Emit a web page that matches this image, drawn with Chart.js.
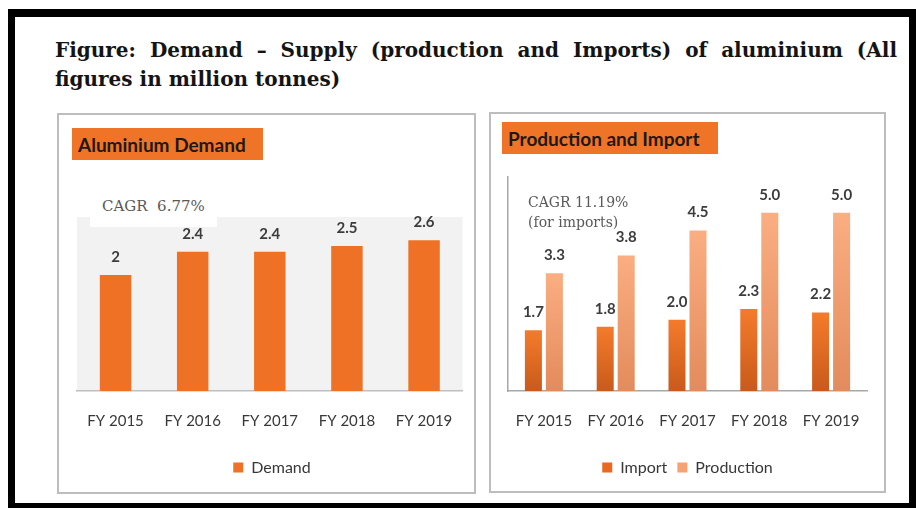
<!DOCTYPE html>
<html>
<head>
<meta charset="utf-8">
<script src="https://cdn.jsdelivr.net/npm/chart.js@4"></script>
<style>
  html, body { margin:0; padding:0; background:#fff; }
  body { width:916px; height:508px; position:relative; overflow:hidden; }
  .frame { position:absolute; left:8px; top:9px; width:908px; height:499px; box-sizing:border-box;
           border-style:solid; border-color:#000; border-width:8px 7px 5px 7px; }
  .title { position:absolute; left:55px; top:36px; width:842px; font-family:"DejaVu Serif", serif;
           font-weight:bold; font-size:20px; line-height:29px; color:#141414; }
  .l1 { text-align:justify; text-align-last:justify; white-space:nowrap; }
  .panel { position:absolute; box-sizing:border-box; border:2px solid #BDBDBD; }
  .tbox { position:absolute; background:#F07427; color:#1E1914; font-family:Lato, sans-serif; font-weight:bold;
          font-size:19px; display:flex; align-items:center; padding-left:6px; box-sizing:border-box; }
  canvas { position:absolute; }
  .cagr { position:absolute; font-family:"DejaVu Serif", serif; color:#595959; }
</style>
</head>
<body>
<div class="frame"></div>
<div class="title">
  <div class="l1">Figure: Demand – Supply (production and Imports) of aluminium (All</div>
  <div>figures in million tonnes)</div>
</div>

<div class="panel" style="left:57px; top:113px; width:419px; height:381px;"></div>
<div class="panel" style="left:489px; top:112px; width:397px; height:381px;"></div>

<canvas id="c1" width="415" height="377" style="left:59px; top:115px;"></canvas>
<canvas id="c2" width="393" height="377" style="left:491px; top:114px;"></canvas>

<div class="tbox" style="left:72px; top:128px; width:191px; height:32px;">Aluminium Demand</div>
<div class="tbox" style="left:502px; top:122px; width:216px; height:32px;">Production and Import</div>

<div class="cagr" style="left:90px; top:191px; width:127px; height:36px; background:#fff; font-size:15px; line-height:30px; padding-left:12px; box-sizing:border-box;">CAGR&nbsp; 6.77%</div>
<div class="cagr" style="left:528px; top:192px; font-size:14px; line-height:20px;">CAGR 11.19%<br>(for imports)</div>

<script>
const categories = ["FY 2015", "FY 2016", "FY 2017", "FY 2018", "FY 2019"];
const demandValues = [2, 2.4, 2.4, 2.5, 2.6];
const importValues = [1.7, 1.8, 2.0, 2.3, 2.2];
const productionValues = [3.3, 3.8, 4.5, 5.0, 5.0];

Chart.defaults.font.family = "Lato, sans-serif";
Chart.defaults.color = "#383838";

const valueLabels = {
  id: 'valueLabels',
  afterDatasetsDraw(chart, args, opts) {
    const ctx = chart.ctx;
    ctx.save();
    ctx.font = "bold 15px Lato, sans-serif";
    ctx.fillStyle = "#3C3C3C";
    ctx.textAlign = "center";
    ctx.textBaseline = "middle";
    chart.data.datasets.forEach((ds, i) => {
      const meta = chart.getDatasetMeta(i);
      meta.data.forEach((bar, j) => {
        ctx.fillText(opts.format(ds.data[j]), bar.x, bar.y - 18);
      });
    });
    ctx.restore();
  }
};

const plotBg = {
  id: 'plotBg',
  beforeDraw(chart, args, opts) {
    if (!opts.color) return;
    const a = chart.chartArea;
    const ctx = chart.ctx;
    ctx.save();
    ctx.fillStyle = opts.color;
    ctx.fillRect(a.left, a.top, a.right - a.left, a.bottom - a.top);
    ctx.restore();
  }
};

function barGradient(top, bottom) {
  return function(context) {
    const chart = context.chart;
    const y = chart.scales && chart.scales.y;
    if (!chart.chartArea || !y || context.raw === undefined) return top;
    const yt = y.getPixelForValue(context.raw);
    const yb = y.getPixelForValue(0);
    const g = chart.ctx.createLinearGradient(0, yt, 0, yb);
    g.addColorStop(0, top);
    g.addColorStop(1, bottom);
    return g;
  };
}

function legendLabels(colors) {
  return function(chart) {
    return chart.data.datasets.map((ds, i) => ({
      text: ds.label, fillStyle: colors[i], strokeStyle: colors[i], lineWidth: 0,
      fontColor: "#383838", datasetIndex: i, hidden: false
    }));
  };
}

new Chart(document.getElementById('c1'), {
  type: 'bar',
  data: {
    labels: categories,
    datasets: [{ label: 'Demand', data: demandValues, backgroundColor: '#EF7125',
                 barPercentage: 0.51, categoryPercentage: 0.8 }]
  },
  options: {
    responsive: false, animation: false,
    layout: { padding: { left: 18, right: 7, top: 102, bottom: 6.5 } },
    scales: {
      x: { grid: { display: false, drawTicks: false },
           border: { display: true, color: '#BFBFBF', width: 1.5 },
           ticks: { padding: 21, color: '#383838', font: { size: 15 } },
           afterFit: s => { s.height = 58.5; } },
      y: { display: false, min: 0, max: 3 }
    },
    plugins: {
      legend: { position: 'bottom',
                labels: { boxWidth: 10, boxHeight: 10, color: '#383838', font: { size: 16 },
                          generateLabels: legendLabels(['#EF7125']) } },
      tooltip: { enabled: false },
      plotBg: { color: '#F2F2F2' },
      valueLabels: { format: v => String(v) }
    }
  },
  plugins: [plotBg, valueLabels]
});

new Chart(document.getElementById('c2'), {
  type: 'bar',
  data: {
    labels: categories,
    datasets: [
      { label: 'Import', data: importValues, backgroundColor: barGradient('#F47B2C', '#C95A1B'),
        barPercentage: 0.81, categoryPercentage: 0.585 },
      { label: 'Production', data: productionValues, backgroundColor: barGradient('#FAAE82', '#E38B5C'),
        barPercentage: 0.81, categoryPercentage: 0.585 }
    ]
  },
  options: {
    responsive: false, animation: false,
    layout: { padding: { left: 17, right: 17, top: 63, bottom: 5.5 } },
    scales: {
      x: { grid: { display: false, drawTicks: false },
           border: { display: true, color: '#A8A8A8', width: 1.5 },
           ticks: { padding: 21, color: '#383838', font: { size: 15 } },
           afterFit: s => { s.height = 58.5; } },
      y: { min: 0, max: 6, grid: { display: false, drawTicks: false },
           border: { display: true, color: '#A8A8A8', width: 1.5 },
           ticks: { display: false },
           afterFit: s => { s.width = 0; } }
    },
    plugins: {
      legend: { position: 'bottom',
                labels: { boxWidth: 10, boxHeight: 10, color: '#383838', font: { size: 16 },
                          generateLabels: legendLabels(['#E8691F', '#F7A272']) } },
      tooltip: { enabled: false },
      valueLabels: { format: v => v.toFixed(1) }
    }
  },
  plugins: [valueLabels]
});
</script>
</body>
</html>
